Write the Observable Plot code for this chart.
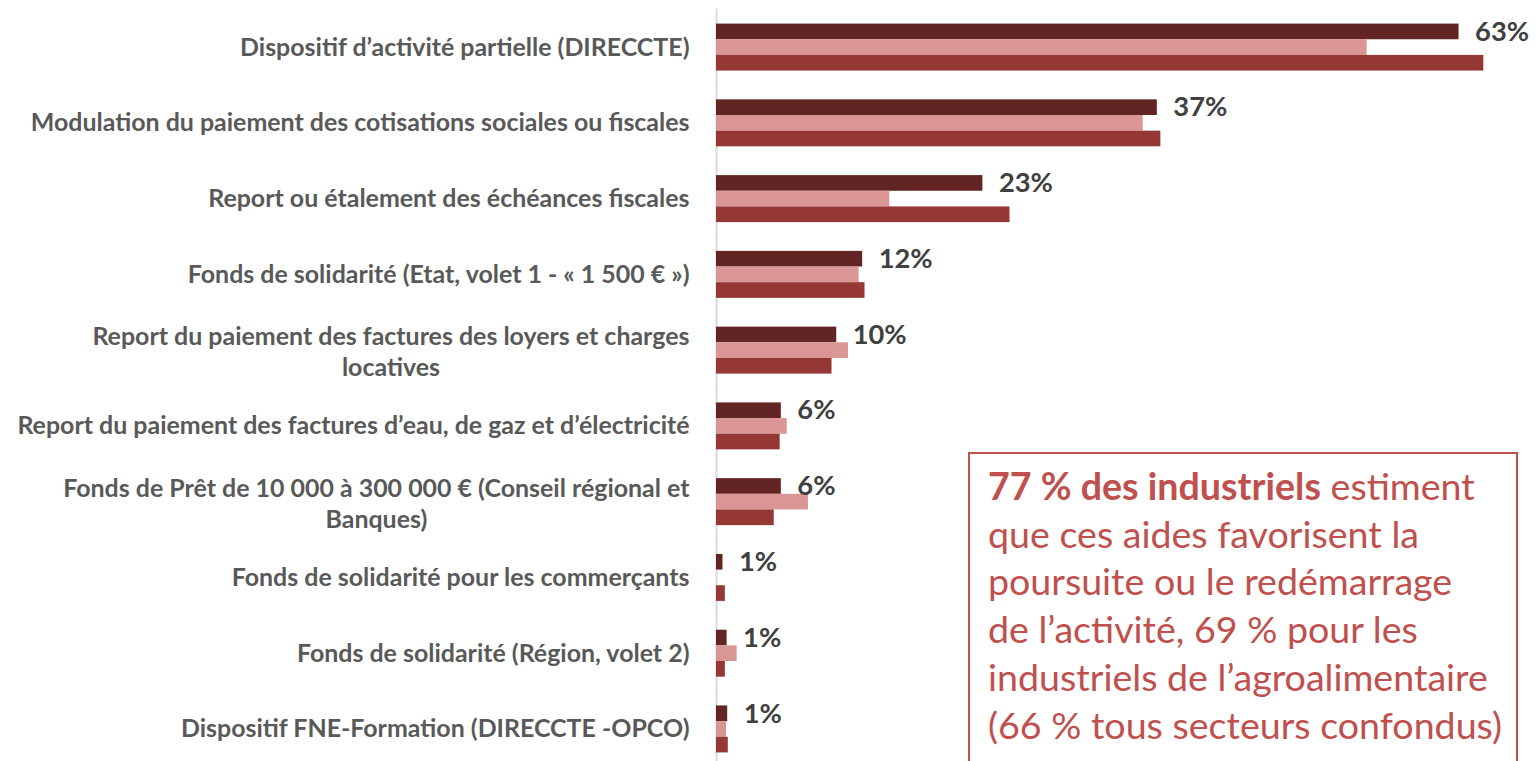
<!DOCTYPE html>
<html lang="fr"><head><meta charset="utf-8">
<script src="https://cdn.jsdelivr.net/npm/d3@7"></script>
<script src="https://cdn.jsdelivr.net/npm/@observablehq/plot@0.6"></script>
<style>
html,body{margin:0;padding:0;background:#fff;overflow:hidden;width:1536px;height:761px}
#chart{position:absolute;left:0;top:0}
#box{position:absolute;left:968px;top:452px;width:550px;height:340px;border:2px solid #c0504d;box-sizing:border-box;color:#c0504d;white-space:nowrap;padding-left:18px}
#box b{font-weight:bold}
</style></head><body>
<div id="chart"></div>
<div id="box"></div>
<script>
// ---- data ----
const categories = [
  "Dispositif d’activité partielle (DIRECCTE)",
  "Modulation du paiement des cotisations sociales ou fiscales",
  "Report ou étalement des échéances fiscales",
  "Fonds de solidarité (Etat, volet 1 - « 1 500 € »)",
  "Report du paiement des factures des loyers et charges\nlocatives",
  "Report du paiement des factures d’eau, de gaz et d’électricité",
  "Fonds de Prêt de 10 000 à 300 000 € (Conseil régional et\nBanques)",
  "Fonds de solidarité pour les commerçants",
  "Fonds de solidarité (Région, volet 2)",
  "Dispositif FNE-Formation (DIRECCTE -OPCO)"
];
const series = ["Industrie", "Agroalimentaire", "Tous secteurs"];
const industrie       = [63.0, 37.4, 22.6, 12.4, 10.2, 5.5, 5.5, 0.55, 0.9, 0.95];
const agroalimentaire = [55.2, 36.2, 14.7, 12.1, 11.2, 6.0, 7.8, 0,    1.75, 0.85];
const tousSecteurs    = [65.1, 37.7, 24.9, 12.6, 9.8,  5.4, 4.9, 0.75, 0.75, 1.0];
const valueLabels = ["63%", "37%", "23%", "12%", "10%", "6%", "6%", "1%", "1%", "1%"];
const colors = ["#632523", "#d99694", "#953735"];
const boxLines = [
  ["77 % des industriels", " estiment"],
  ["", "que ces aides favorisent la"],
  ["", "poursuite ou le redémarrage"],
  ["", "de l’activité, 69 % pour les"],
  ["", "industriels de l’agroalimentaire"],
  ["", "(66 % tous secteurs confondus)"]
];

// ---- helpers ----
const FF = "Lato, 'Open Sans', sans-serif";
const ctx = document.createElement("canvas").getContext("2d");
function measure(txt, font) { ctx.font = font; return ctx.measureText(txt).width; }
const catSize = 22 * 659 / measure(categories[1], `bold 22px ${FF}`);
const valSize = 30 * 54 / measure("63%", `bold 30px ${FF}`);
const boxSize = 36 * 500 / measure("industriels de l’agroalimentaire", `36px ${FF}`);

const allValues = [industrie, agroalimentaire, tousSecteurs];
const rows = categories.flatMap((c, i) => series.map((s, j) => ({cat: c, serie: s, value: allValues[j][i]})));
const labelRows = categories.map((c, i) => ({cat: c, value: industrie[i], label: valueLabels[i]}));
const catData = categories.map(c => ({cat: c, lines: c.split("\n")}));

const labelStyle = {fontSize: catSize, fontWeight: "bold", fill: "#595959"};
const catMarks = [
  Plot.text(catData.filter(d => d.lines.length === 1), {
    fy: "cat", x: () => 0, text: d => d.lines[0], textAnchor: "end", dx: -27, ...labelStyle
  }),
  ...catData.filter(d => d.lines.length > 1).map(d => {
    const w = Math.max(...d.lines.map(l => measure(l, `bold ${catSize}px ${FF}`)));
    return Plot.text([d], {
      fy: "cat", x: () => 0, text: d => d.lines.join("\n"), textAnchor: "middle",
      dx: -27 - w / 2, lineHeight: 31 / catSize, ...labelStyle
    });
  })
];

const chart = Plot.plot({
  width: 1536, height: 761,
  marginLeft: 716, marginRight: 0, marginTop: 16, marginBottom: 1,
  x: {domain: [0, 69.57], axis: null},
  y: {domain: series, axis: null, padding: 0, round: false},
  fy: {domain: categories, axis: null, paddingInner: 0.38, paddingOuter: 0.1, round: false},
  color: {domain: series, range: colors},
  style: {fontFamily: FF, background: "white", overflow: "visible"},
  marks: [
    Plot.ruleX([0], {stroke: "#d9d9d9", strokeWidth: 2, insetTop: -15, insetBottom: -15}),
    Plot.barX(rows, {fy: "cat", y: "serie", x: "value", fill: "serie"}),
    Plot.text(labelRows, {
      fy: "cat", y: () => series[0], x: "value", text: "label", dx: 16, textAnchor: "start",
      fontSize: valSize, fontWeight: "bold", fill: "#404040"
    }),
    ...catMarks
  ]
});
document.getElementById("chart").appendChild(chart);

const box = document.getElementById("box");
box.style.fontFamily = FF;
box.style.fontSize = boxSize + "px";
box.style.lineHeight = "47.7px";
box.style.paddingTop = "8px";
box.innerHTML = boxLines.map(([b, t]) => (b ? `<b>${b}</b>` : "") + t).join("<br>");
</script>
</body></html>
